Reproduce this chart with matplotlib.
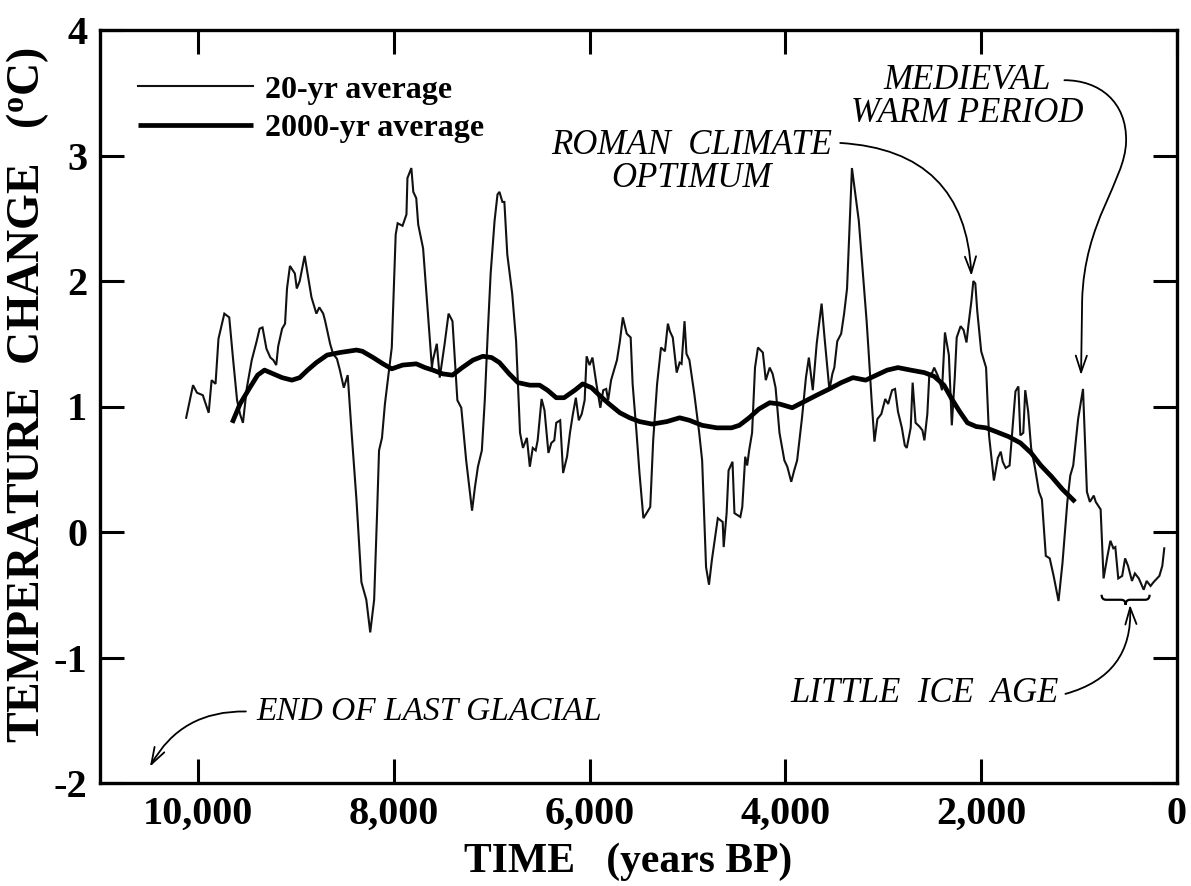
import numpy as np
import matplotlib
matplotlib.use('Agg')
import matplotlib.pyplot as plt
from matplotlib.path import Path
from matplotlib.patches import PathPatch, FancyArrowPatch

plt.rcParams['font.family'] = 'Liberation Serif'
plt.rcParams['mathtext.fontset'] = 'custom'
plt.rcParams['mathtext.bf'] = 'Liberation Serif:bold'
plt.rcParams['mathtext.rm'] = 'Liberation Serif:bold'
plt.rcParams['axes.unicode_minus'] = False

# 20-yr average (years before present, degrees C)
years_20 = [10120, 10050, 10010, 9950, 9890, 9860, 9820, 9790, 9730, 9680,
            9640, 9600, 9570, 9540, 9500, 9450, 9400, 9370, 9340, 9300,
            9260, 9230, 9200, 9180, 9140, 9110, 9090, 9060, 9010, 8990,
            8960, 8910, 8880, 8840, 8790, 8760, 8720, 8700, 8650, 8620,
            8580, 8550, 8510, 8470, 8430, 8380, 8330, 8280, 8240, 8200,
            8170, 8150, 8120, 8090, 8060, 8020, 7980, 7960, 7910, 7870,
            7860, 7820, 7800, 7770, 7750, 7700, 7660, 7610, 7600, 7560,
            7530, 7480, 7440, 7400, 7350, 7310, 7260, 7200, 7170, 7140,
            7100, 7070, 7040, 7010, 6970, 6940, 6920, 6890, 6870, 6840,
            6790, 6750, 6710, 6680, 6640, 6610, 6580, 6550, 6530, 6490,
            6460, 6420, 6390, 6360, 6340, 6300, 6270, 6230, 6200, 6170,
            6140, 6110, 6080, 6050, 6030, 6000, 5970, 5930, 5890, 5860,
            5830, 5810, 5780, 5720, 5690, 5660, 5620, 5580, 5560, 5520,
            5490, 5450, 5410, 5380, 5350, 5310, 5270, 5230, 5200, 5180,
            5150, 5110, 5080, 5060, 5030, 5010, 4980, 4930, 4880, 4850,
            4810, 4780, 4750, 4690, 4640, 4630, 4600, 4580, 4540, 4520,
            4460, 4440, 4410, 4390, 4370, 4340, 4310, 4280, 4230, 4200,
            4160, 4130, 4100, 4060, 4010, 3980, 3940, 3910, 3880, 3830,
            3790, 3760, 3720, 3680, 3630, 3600, 3550, 3520, 3500, 3470,
            3430, 3400, 3370, 3320, 3250, 3170, 3150, 3120, 3090, 3060,
            3020, 2980, 2950, 2910, 2880, 2850, 2810, 2780, 2760, 2720,
            2700, 2670, 2630, 2600, 2580, 2550, 2530, 2500, 2480, 2440,
            2400, 2370, 2330, 2300, 2270, 2250, 2210, 2180, 2150, 2130,
            2100, 2080, 2060, 2040, 2000, 1950, 1920, 1870, 1830, 1800,
            1780, 1750, 1710, 1680, 1650, 1620, 1600, 1570, 1550, 1520,
            1490, 1450, 1410, 1380, 1340, 1300, 1260, 1210, 1170, 1120,
            1090, 1060, 1010, 960, 920, 890, 850, 830, 780, 750,
            710, 680, 650, 630, 600, 560, 530, 500, 460, 430,
            390, 340, 310, 270, 240, 180, 150, 130]
temp_20 = [0.91, 1.17, 1.11, 1.09, 0.95, 1.21, 1.18, 1.54, 1.74, 1.71,
           1.37, 1.05, 0.94, 0.87, 1.15, 1.37, 1.52, 1.62, 1.63, 1.46,
           1.39, 1.37, 1.33, 1.48, 1.62, 1.66, 1.94, 2.12, 2.06, 1.94,
           2.00, 2.20, 2.06, 1.87, 1.74, 1.79, 1.74, 1.68, 1.50, 1.42,
           1.38, 1.29, 1.15, 1.25, 0.79, 0.25, -0.40, -0.54, -0.80, -0.54,
           0.15, 0.65, 0.75, 1.02, 1.21, 1.47, 2.37, 2.46, 2.44, 2.53,
           2.82, 2.90, 2.71, 2.66, 2.45, 2.26, 1.84, 1.31, 1.37, 1.50,
           1.23, 1.50, 1.74, 1.68, 1.05, 0.99, 0.57, 0.17, 0.36, 0.52,
           0.65, 1.05, 1.58, 2.06, 2.48, 2.69, 2.71, 2.63, 2.63, 2.21,
           1.90, 1.52, 0.79, 0.67, 0.75, 0.52, 0.67, 0.65, 0.73, 1.06,
           0.97, 0.63, 0.71, 0.73, 0.87, 0.89, 0.47, 0.60, 0.79, 0.94,
           1.07, 0.89, 0.94, 1.05, 1.40, 1.33, 1.39, 1.18, 0.99, 1.13,
           1.14, 1.05, 1.21, 1.37, 1.52, 1.71, 1.58, 1.55, 1.18, 0.79,
           0.47, 0.11, 0.16, 0.20, 0.73, 1.18, 1.47, 1.44, 1.66, 1.60,
           1.55, 1.27, 1.35, 1.34, 1.68, 1.42, 1.37, 1.10, 0.79, 0.57,
           -0.28, -0.42, -0.22, 0.11, 0.08, -0.12, 0.15, 0.49, 0.56, 0.15,
           0.12, 0.20, 0.60, 0.53, 0.65, 0.79, 1.31, 1.47, 1.43, 1.21,
           1.31, 1.26, 1.15, 0.79, 0.57, 0.52, 0.40, 0.49, 0.57, 0.91,
           1.23, 1.39, 1.13, 1.50, 1.82, 1.55, 1.13, 1.26, 1.31, 1.52,
           1.58, 1.74, 1.94, 2.90, 2.48, 1.68, 1.44, 1.06, 0.72, 0.90,
           0.94, 1.06, 1.02, 1.13, 1.14, 0.96, 0.83, 0.69, 0.67, 0.83,
           1.19, 0.87, 0.84, 0.81, 0.73, 0.94, 1.25, 1.27, 1.31, 1.24,
           1.13, 1.59, 1.41, 0.85, 1.23, 1.55, 1.64, 1.61, 1.51, 1.65,
           1.84, 2.00, 1.98, 1.76, 1.44, 1.31, 0.77, 0.41, 0.59, 0.64,
           0.56, 0.51, 0.53, 0.83, 1.12, 1.16, 0.77, 0.79, 1.13, 0.96,
           0.67, 0.51, 0.32, 0.26, -0.19, -0.21, -0.35, -0.55, -0.25, 0.24,
           0.45, 0.53, 0.90, 1.14, 0.32, 0.24, 0.29, 0.24, 0.18, -0.37,
           -0.19, -0.07, -0.13, -0.12, -0.37, -0.35, -0.21, -0.27, -0.39, -0.33,
           -0.37, -0.46, -0.39, -0.43, -0.40, -0.35, -0.27, -0.13]

# 2000-yr average
years_2000 = [9650, 9570, 9470, 9390, 9320, 9230, 9140, 9040, 8960, 8880,
              8790, 8680, 8550, 8380, 8320, 8210, 8110, 8020, 7910, 7770,
              7680, 7600, 7500, 7400, 7300, 7190, 7090, 7000, 6920, 6820,
              6730, 6610, 6510, 6430, 6340, 6260, 6150, 6070, 5980, 5900,
              5800, 5690, 5590, 5490, 5360, 5210, 5080, 4980, 4850, 4700,
              4550, 4470, 4370, 4270, 4160, 4060, 3930, 3830, 3680, 3550,
              3430, 3310, 3180, 3070, 2960, 2850, 2720, 2580, 2480, 2380,
              2300, 2220, 2140, 2050, 1950, 1850, 1720, 1600, 1490, 1390,
              1280, 1170, 1040]
temp_2000 = [0.87, 1.02, 1.15, 1.25, 1.29, 1.26, 1.23, 1.21, 1.23, 1.29,
             1.35, 1.41, 1.43, 1.45, 1.44, 1.39, 1.34, 1.30, 1.33, 1.34,
             1.31, 1.29, 1.26, 1.25, 1.31, 1.37, 1.40, 1.39, 1.35, 1.26,
             1.19, 1.17, 1.17, 1.13, 1.07, 1.07, 1.13, 1.18, 1.15, 1.09,
             1.02, 0.95, 0.91, 0.88, 0.86, 0.88, 0.91, 0.89, 0.85, 0.83,
             0.83, 0.85, 0.91, 0.98, 1.03, 1.02, 0.99, 1.03, 1.09, 1.14,
             1.19, 1.23, 1.21, 1.25, 1.29, 1.31, 1.29, 1.27, 1.24, 1.17,
             1.06, 0.96, 0.87, 0.84, 0.83, 0.80, 0.76, 0.71, 0.63, 0.53,
             0.44, 0.34, 0.24]

x_ticks = [10000, 8000, 6000, 4000, 2000, 0]
x_tick_labels = ['10,000', '8,000', '6,000', '4,000', '2,000', '0']
y_ticks = [-2, -1, 0, 1, 2, 3, 4]
y_tick_labels = ['-2', '-1', '0', '1', '2', '3', '4']

fig = plt.figure(figsize=(11.91, 8.86), dpi=100)
ax = fig.add_axes([100 / 1191, 1 - 783 / 886, 1077 / 1191, 753 / 886])

thin, = ax.plot(years_20, temp_20, color='#111111', lw=1.5, solid_joinstyle='miter')
thick, = ax.plot(years_2000, temp_2000, color='black', lw=3.4, solid_capstyle='butt')

ax.set_xlim(11000, 0)
ax.set_ylim(-2, 4)

ax.set_xticks(x_ticks)
ax.set_xticklabels(x_tick_labels)
ax.set_yticks(y_ticks)
ax.set_yticklabels(y_tick_labels)
ax.tick_params(direction='in', length=17, width=2.2, top=True, right=True,
               labelsize=29, pad=9)
for lab in ax.get_xticklabels() + ax.get_yticklabels():
    lab.set_fontweight('bold')
for sp in ax.spines.values():
    sp.set_linewidth(2.4)

ax.set_xlabel('TIME   (years BP)', fontsize=30, fontweight='bold')
ax.xaxis.set_label_coords(0.49, -0.105)
ax.xaxis.label.set_va('center')
ax.set_ylabel(r'TEMPERATURE  CHANGE   ($\mathbf{^{o}}$C)', fontsize=33,
              fontweight='bold')
ax.yaxis.set_label_coords(-0.067, 0.515)
ax.yaxis.label.set_va('center')

ax.legend([thin, thick], ['20-yr average', '2000-yr average'],
          loc='upper left', bbox_to_anchor=(0.035, 0.94), frameon=False,
          prop={'family': 'Liberation Serif', 'weight': 'bold', 'size': 23},
          handlelength=3.6, handletextpad=0.4, labelspacing=0.3,
          borderpad=0, borderaxespad=0)

note = dict(fontsize=25, style='italic', ha='center', va='center',
            linespacing=1.0)
arrow = dict(arrowstyle='->,head_length=0.6,head_width=0.2', lw=1.3,
             color='black', mutation_scale=20, shrinkA=0, shrinkB=0)

ax.text(4960, 2.95, 'ROMAN  CLIMATE\nOPTIMUM', **note)
ax.annotate('', xy=(2100, 2.04), xytext=(3440, 3.10),
            arrowprops=dict(connectionstyle='arc3,rad=-0.45', **arrow))

ax.text(2143, 3.47, 'MEDIEVAL\nWARM PERIOD', **note)
mwp = Path([(1150, 3.60), (796, 3.60), (510, 3.43), (520, 3.11),
            (531, 2.79), (949, 2.48), (969, 1.84), (980, 1.25)],
           [Path.MOVETO, Path.CURVE4, Path.CURVE4, Path.CURVE4,
            Path.CURVE4, Path.CURVE4, Path.CURVE4, Path.LINETO])
ax.add_patch(FancyArrowPatch(path=mwp, **arrow))

ax.text(2580, -1.29, 'LITTLE  ICE  AGE', **note)
ax.annotate('', xy=(480, -0.58), xytext=(1140, -1.29),
            arrowprops=dict(connectionstyle='arc3,rad=0.4', **arrow))

ax.text(7640, -1.43, 'END OF LAST GLACIAL', fontsize=24, style='italic',
        ha='center', va='center')
ax.annotate('', xy=(10490, -1.87), xytext=(9510, -1.43),
            arrowprops=dict(connectionstyle='arc3,rad=0.3', **arrow))

# curly brace under the Little Ice Age segment
c, w, d, y0, h = 525, 245, 45, -0.50, 0.08
brace = Path([(c + w, y0), (c + w, y0 - h / 2), (c + w - d, y0 - h / 2),
              (c + d, y0 - h / 2), (c, y0 - h / 2), (c, y0 - h),
              (c, y0 - h / 2), (c - d, y0 - h / 2),
              (c - w + d, y0 - h / 2), (c - w, y0 - h / 2), (c - w, y0)],
             [Path.MOVETO, Path.CURVE3, Path.CURVE3, Path.LINETO,
              Path.CURVE3, Path.CURVE3, Path.CURVE3, Path.CURVE3,
              Path.LINETO, Path.CURVE3, Path.CURVE3])
ax.add_patch(PathPatch(brace, fill=False, lw=1.6, color='black'))

fig.savefig('out.png', dpi=100)
